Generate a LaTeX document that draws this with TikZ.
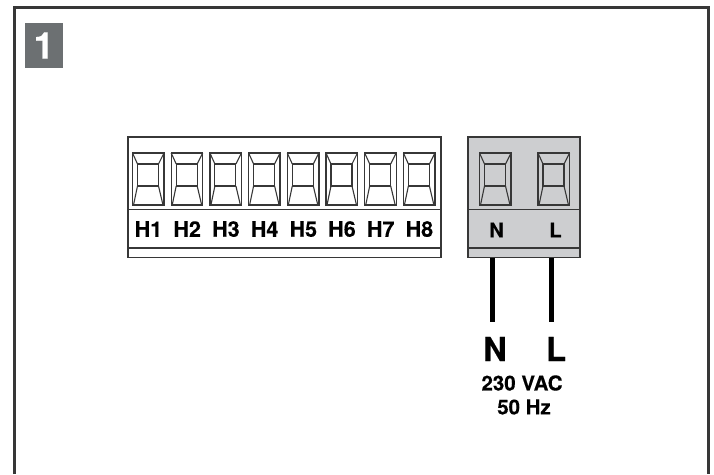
\documentclass[tikz,border=0pt]{standalone}
\usepackage{fontspec}
\setmainfont[BoldFeatures={FakeBold=0.25}]{TeX Gyre Heros}
\definecolor{linec}{RGB}{55,55,55}
\definecolor{blockgray}{RGB}{205,206,208}
\definecolor{badge}{RGB}{108,112,114}
\tikzset{
  x=1pt,y=-1pt,
  lbl/.style={font=\bfseries\fontsize{21.5}{21.5}\selectfont,text=black,inner sep=0pt,anchor=center},
  lblsm/.style={font=\bfseries\fontsize{20}{20}\selectfont,text=black,inner sep=0pt,anchor=center},
  big/.style={font=\bfseries\fontsize{33}{33}\selectfont,text=black,inner sep=0pt,anchor=center},
  supply/.style={font=\bfseries\fontsize{20.5}{20.5}\selectfont,text=black,inner sep=0pt,anchor=center},
  edge/.style={draw=linec,line width=1.1pt},
  wire/.style={draw=black,line width=5pt},
  pics/terminal/.style={code={
    \draw[edge,line width=1.4pt] (0,0) rectangle (31.5,52);
    \draw[edge] (5,11) rectangle (26,33);
    \draw[edge] (0,0) -- (5,11) (31.5,0) -- (26,11)
      (5,33) -- (1,52) (26,33) -- (30.5,52);
  }}
}
\begin{document}
\begin{tikzpicture}
\useasboundingbox (0,0) rectangle (714,474);
% frame
\draw[draw=linec,line width=3pt] (14.5,474) -- (14.5,7.5) -- (708.5,7.5) -- (708.5,474);
% badge
\node[fill=badge,text=white,font=\bfseries\fontsize{37}{37}\selectfont,minimum width=38pt,minimum height=45pt,inner sep=0pt] (badge) at (44,45.5) {1};
% left terminal block
\draw[edge] (128,137) rectangle (441,257.5);
\draw[edge] (128,209.5) -- (441,209.5);
\draw[edge] (128,248) -- (441,248);
\foreach \i [evaluate=\i as \xx using {132.5+38.7*(\i-1)}] in {1,...,8}{
  \pic at (\xx,153) {terminal};
  \node[lbl] (h\i) at ({\xx+16},229) {H\i};
}
% right terminal block
\draw[edge,fill=blockgray] (468,137) rectangle (580,257.5);
\draw[edge] (468,209.5) -- (580,209.5);
\draw[edge] (468,248) -- (580,248);
\pic at (479.5,153) {terminal};
\pic at (538,153) {terminal};
\node[lblsm] (tn) at (496.5,230) {N};
\node[lblsm] (tl) at (555.5,230) {L};
% wires
\coordinate (ntop) at (492,257.5);
\coordinate (nend) at (492,322);
\coordinate (ltop) at (551,257.5);
\coordinate (lend) at (551,322);
\draw[wire] (ntop) -- (nend);
\draw[wire] (ltop) -- (lend);
% labels
\node[big] (supn) at (495,349) {N};
\node[big] (supl) at (556,349) {L};
\node[supply] (volt) at (522,383) {230 VAC};
\node[supply] (freq) at (524,407) {50 Hz};
\end{tikzpicture}
\end{document}
